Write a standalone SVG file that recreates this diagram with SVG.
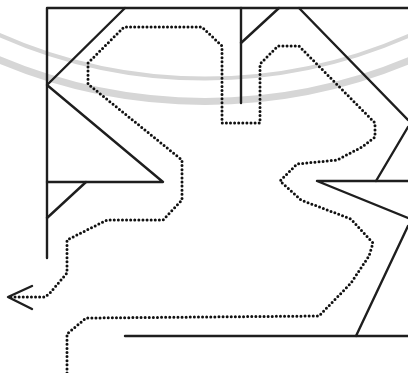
<svg xmlns="http://www.w3.org/2000/svg" width="408" height="373" viewBox="0 0 408 373">
<style>
.wm{fill:none;stroke:#d6d6d6}
.wall{fill:none;stroke:#1e1e1e;stroke-width:2.4;stroke-linecap:round;stroke-linejoin:round}
.route{fill:none;stroke:#111;stroke-width:3;stroke-linecap:round;stroke-linejoin:round;stroke-dasharray:0 4.1}
</style>
<rect width="408" height="373" fill="#ffffff"/>
<g id="watermark">
<path class="wm" stroke-width="7" d="M -5,58 A 530 530 0 0 0 415,58"/>
<path class="wm" stroke-width="4" d="M -5,33 A 507 507 0 0 0 415,33"/>
</g>
<g id="walls">
<path class="wall" d="M408,8 L47,8 L47,258"/>
<path class="wall" d="M125,8 L47,85 L163,182 L47,182"/>
<path class="wall" d="M47,218 L86,182"/>
<path class="wall" d="M241,8 L241,103"/>
<path class="wall" d="M241,43 L279,8"/>
<path class="wall" d="M299,8 L408,120"/>
<path class="wall" d="M408,127 L376,181"/>
<path class="wall" d="M408,181 L317,181 L408,218"/>
<path class="wall" d="M408,226 L356,336"/>
<path class="wall" d="M125,336 L408,336"/>
</g>
<g id="route">
<path class="route" d="M67,373 L67,334 L86,318 L319,316 L351,283 L369,256 L373,243 L351,219 L301,200 L280,181 L297,164 L337,160 L362,147 L375,137 L375,123 L299,46 L278,46 L260,64 L260,123 L222,123 L222,46 L202,27 L124,27 L88,63 L88,84 L182,160 L182,200 L163,220 L107,220 L67,240 L67,273 L50,293 L45,297 L10,297"/>
<path class="wall" d="M32,286 L8,297 L32,309"/>
</g>
</svg>
